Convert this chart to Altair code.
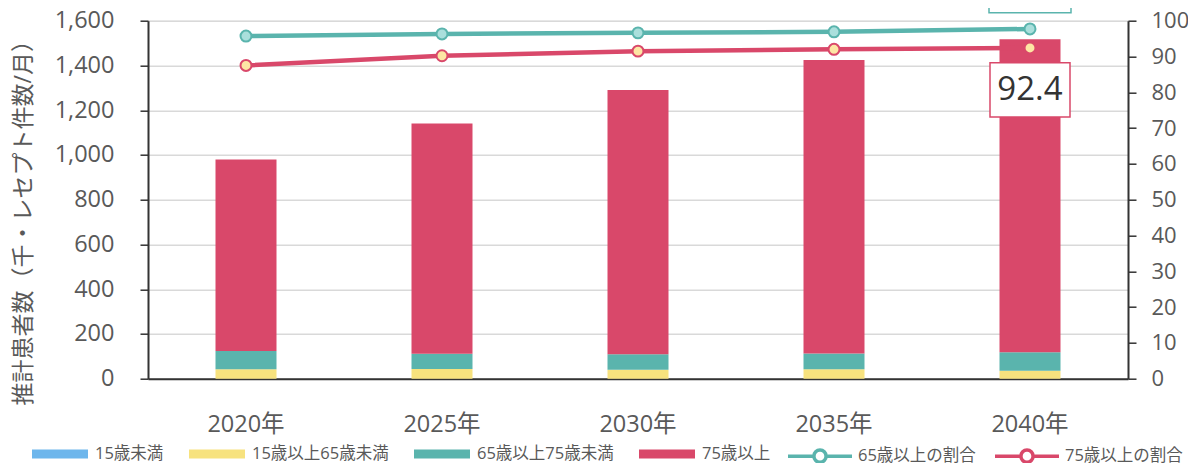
import altair as alt
import pandas as pd

years = ["2020年", "2025年", "2030年", "2035年", "2040年"]
bar_series = ["15歳未満", "15歳以上65歳未満", "65歳以上75歳未満", "75歳以上"]
under15 = [0, 0, 0, 0, 0]
age15_64 = [42, 43, 40, 42, 36]
age65_74 = [82, 69, 69, 71, 82]
age75plus = [856, 1029, 1181, 1311, 1399]

line_series = ["65歳以上の割合", "75歳以上の割合"]
ratio65 = [95.7, 96.3, 96.6, 96.9, 97.7]
ratio75 = [87.5, 90.2, 91.5, 92.0, 92.4]

label_year = "2040年"

bar_colors = ["#6db6ec", "#f7e27e", "#5ab4ad", "#d9486a"]
line_colors = ["#5ab4ad", "#d9486a"]
marker_fills = ["#aadfdc", "#fde6a4"]

FONT = "Open Sans, Noto Sans CJK JP"
GRAY = "#595959"
DARK = "#333333"

# ---- data frames
rows = []
for i, y in enumerate(years):
    for k, (s, vals) in enumerate(zip(bar_series, [under15, age15_64, age65_74, age75plus])):
        rows.append({"year": y, "series": s, "value": vals[i], "ord": k})
bars_df = pd.DataFrame(rows)

lrows = []
for i, y in enumerate(years):
    for s, vals in zip(line_series, [ratio65, ratio75]):
        lrows.append({"year": y, "series": s, "value": vals[i]})
lines_df = pd.DataFrame(lrows)

pts65 = lines_df[lines_df.series == line_series[0]]
pts75 = lines_df[lines_df.series == line_series[1]]
lab65 = pts65[pts65.year == label_year]
lab75 = pts75[pts75.year == label_year]

x_enc = alt.X(
    "year:N", sort=years, title=None,
    axis=alt.Axis(labelAngle=0, labelFontSize=23.5, labelColor=GRAY, labelFont=FONT,
                  labelPadding=34, ticks=False, domainColor=DARK, domainWidth=2, grid=False),
)

rect_path = "M-1,-0.16L1,-0.16L1,0.16L-1,0.16Z"
line_path = "M-1,0L-0.19,0M0.19,0L1,0M0.19,0A0.19,0.19,0,1,1,-0.19,0A0.19,0.19,0,1,1,0.19,0"

bar_legend = alt.Legend(
    orient="none", legendX=-116, legendY=405, direction="horizontal",
    symbolType=rect_path, symbolSize=3136, symbolStrokeWidth=0, symbolOpacity=1,
    labelFontSize=16.5, labelColor=GRAY, labelFont=FONT, labelOffset=7,
    columnPadding=25, labelLimit=300,
)
line_legend = alt.Legend(
    orient="none", legendX=638, legendY=401, direction="horizontal",
    symbolType=line_path, symbolSize=4096, symbolStrokeWidth=3.5, symbolOpacity=1,
    symbolFillColor="white",
    labelFontSize=16.5, labelColor=GRAY, labelFont=FONT, labelOffset=4,
    columnPadding=12, labelLimit=300,
)

bars = alt.Chart(bars_df).mark_bar(size=61).encode(
    x=x_enc,
    y=alt.Y(
        "value:Q", stack="zero", title="推計患者数（千・レセプト件数/月）",
        scale=alt.Scale(domain=[0, 1600], nice=False),
        axis=alt.Axis(values=list(range(0, 1601, 200)), format=",.0f", labelFontSize=23.5,
                      labelColor=GRAY, labelFont=FONT, labelPadding=26, tickSize=8,
                      tickColor=DARK, tickWidth=1.5, domainColor=DARK, domainWidth=2,
                      gridColor="#d9d9d9", gridWidth=1.5,
                      titleFont=FONT, titleFontSize=23, titleColor=GRAY, titleFontWeight="normal",
                      titleAngle=270, titleAlign="center", titleBaseline="middle",
                      titleX=-125, titleY=196),
    ),
    color=alt.Color("series:N", title=None,
                    scale=alt.Scale(domain=bar_series, range=bar_colors),
                    legend=bar_legend),
    order=alt.Order("ord:Q", sort="ascending"),
)

y_right = alt.Y(
    "value:Q", title=None, scale=alt.Scale(domain=[0, 100], nice=False),
    axis=alt.Axis(orient="right", values=list(range(0, 101, 10)), labelFontSize=22,
                  labelColor=GRAY, labelFont=FONT, labelPadding=15, tickSize=8,
                  tickColor=DARK, tickWidth=1.5, domainColor=DARK, domainWidth=2, grid=False),
)
stroke_enc = alt.Stroke("series:N", title=None,
                        scale=alt.Scale(domain=line_series, range=line_colors),
                        legend=line_legend)

lines = alt.Chart(lines_df).mark_line(strokeWidth=4.5).encode(
    x=x_enc, y=y_right, stroke=stroke_enc,
)
points65 = alt.Chart(pts65).mark_point(filled=True, size=120, strokeWidth=2, opacity=1,
                                       fill=marker_fills[0], stroke=line_colors[0]).encode(
    x=x_enc, y=y_right)
points75 = alt.Chart(pts75).mark_point(filled=True, size=120, strokeWidth=2, opacity=1,
                                       fill=marker_fills[1], stroke=line_colors[1]).encode(
    x=x_enc, y=y_right)

box_path = "M-1,-0.68L1,-0.68L1,0.68L-1,0.68Z"
box65 = alt.Chart(lab65).mark_point(shape=box_path, size=6724, filled=True, fill="white",
                                    stroke=line_colors[0], strokeWidth=1.5, opacity=1,
                                    yOffset=-44).encode(x=x_enc, y=y_right)
txt65 = alt.Chart(lab65).mark_text(fontSize=33, font=FONT, color=DARK, yOffset=-44,
                                   baseline="middle").encode(
    x=x_enc, y=y_right, text=alt.Text("value:Q", format=".1f"))
box75 = alt.Chart(lab75).mark_point(shape=box_path, size=6400, filled=True, fill="white",
                                    stroke=line_colors[1], strokeWidth=1.5, opacity=1,
                                    yOffset=42).encode(x=x_enc, y=y_right)
txt75 = alt.Chart(lab75).mark_text(fontSize=33, font=FONT, color=DARK, yOffset=42,
                                   baseline="middle").encode(
    x=x_enc, y=y_right, text=alt.Text("value:Q", format=".1f"))

right = alt.layer(lines, points65, points75, box65, txt65, box75, txt75)

chart = alt.layer(bars, right).resolve_scale(y="independent").properties(
    width=980, height=358,
    padding={"left": 140, "top": 12.7, "right": 60, "bottom": 84.3},
    autosize=alt.AutoSizeParams(type="none"),
).configure_view(stroke=None).configure(font=FONT)

chart.save("out.html", embed_options={"renderer": "svg", "actions": False})
